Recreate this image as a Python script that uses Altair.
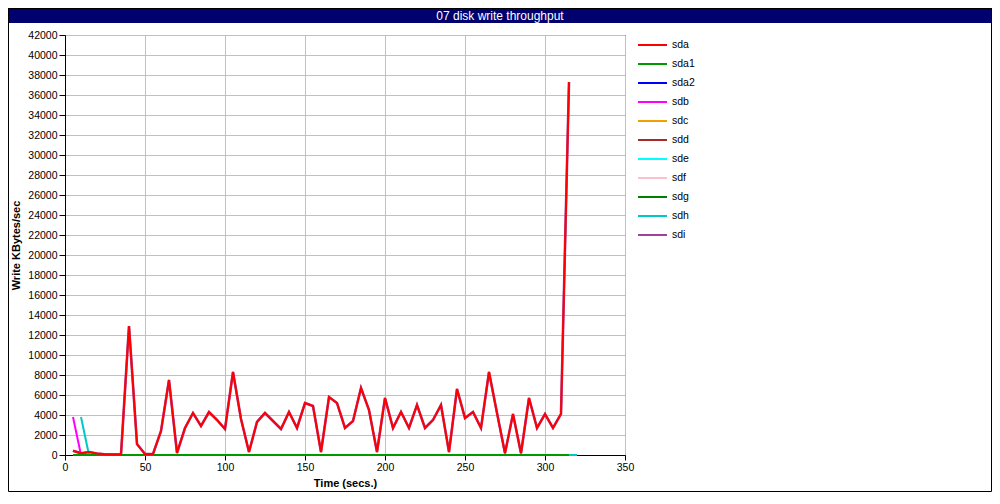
import altair as alt
import pandas as pd

# ---------------- data ----------------
times = list(range(5, 320, 5))  # 5 .. 315
times_sdh = list(range(10, 325, 5))  # 10 .. 320

sda = [430, 170, 300, 150, 80, 60, 60, 12900, 1100, 100,
       100, 2400, 7500, 200, 2700, 4200, 2900, 4300, 3500, 2600,
       8300, 3600, 300, 3300, 4200, 3400, 2600, 4300, 2700, 5200,
       4900, 300, 5800, 5200, 2700, 3400, 6700, 4500, 300, 5700,
       2700, 4300, 2700, 5000, 2700, 3500, 5000, 300, 6600, 3700,
       4300, 2700, 8300, 4200, 170, 4100, 170, 5700, 2700, 4100,
       2700, 4100, 37300]
sdi = list(sda)
sdb = [3800] + [0] * 62
sdh = [3800] + [0] * 62
zero = [0] * 63

series_names = ["sda", "sda1", "sda2", "sdb", "sdc", "sdd", "sde", "sdf", "sdg", "sdh", "sdi"]
series_colors = ["#ff0000", "#009a00", "#0000ff", "#ff00ff", "#f0a000", "#a52a2a",
                 "#00ffff", "#ffc0cb", "#007f00", "#00c8c8", "#a040a0"]
series_values = {
    "sda": (times, sda), "sda1": (times, zero), "sda2": (times, zero),
    "sdb": (times, sdb), "sdc": (times, zero), "sdd": (times, zero),
    "sde": (times, zero), "sdf": (times, zero), "sdg": (times, zero),
    "sdh": (times_sdh, sdh), "sdi": (times, sdi),
}
title_text = "07 disk write throughput"
y_ticks = list(range(0, 42001, 2000))
x_ticks = list(range(0, 351, 50))

FONT = "Liberation Sans"
W, H = 560, 420
PAD = {"left": 57, "top": 27, "right": 367, "bottom": 37}

color_scale = alt.Scale(domain=series_names, range=series_colors)

x_enc = alt.X("t:Q", scale=alt.Scale(domain=[0, 350], nice=False),
              axis=alt.Axis(values=x_ticks, title="Time (secs.)", format="d",
                            tickSize=5, labelPadding=2, titlePadding=5, labelFlush=False))
y_enc = alt.Y("v:Q", scale=alt.Scale(domain=[0, 42000], nice=False),
              axis=alt.Axis(values=y_ticks, title="Write KBytes/sec", format="d",
                            tickSize=6, labelPadding=2, titlePadding=6, labelFlush=False))

line_layers = []
for name in reversed(series_names):
    ts, vs = series_values[name]
    df = pd.DataFrame({"t": ts, "v": vs, "series": name})
    sw = 2.6 if name == "sdi" else 2
    line_layers.append(
        alt.Chart(df).mark_line(strokeWidth=sw).encode(
            x=x_enc, y=y_enc,
            color=alt.Color("series:N", scale=color_scale, legend=None),
        )
    )
lines = alt.layer(*line_layers)

# manual legend
leg_df = pd.DataFrame({"series": series_names})
leg_y = alt.Y("series:N",
              scale=alt.Scale(type="point", domain=series_names, range=[10, 200], padding=0),
              axis=None)
leg_rule = alt.Chart(leg_df).mark_rule(strokeWidth=2).encode(
    x=alt.value(573), x2=alt.value(602), y=leg_y,
    color=alt.Color("series:N", scale=color_scale, legend=None),
)
leg_text = alt.Chart(leg_df).mark_text(align="left", baseline="middle", fontSize=10.5,
                                       font=FONT, color="black").encode(
    x=alt.value(607), y=leg_y, text="series:N",
)
legend = alt.layer(leg_rule, leg_text)

# decorations
tdf = pd.DataFrame({"title": [title_text]})
total_w = PAD["left"] + W + PAD["right"]
total_h = PAD["top"] + H + PAD["bottom"]
bar = alt.Chart(tdf).mark_rect(color="#00006e").encode(
    x=alt.value(-PAD["left"]), x2=alt.value(total_w - PAD["left"]),
    y=alt.value(-PAD["top"]), y2=alt.value(-PAD["top"] + 15),
)
title = alt.Chart(tdf).mark_text(color="white", fontSize=12, font=FONT,
                                 align="center", baseline="middle").encode(
    x=alt.value(500 - 8 - PAD["left"]), y=alt.value(-PAD["top"] + 7.5), text="title:N",
)
border = alt.Chart(tdf).mark_rect(filled=False, stroke="black", strokeWidth=1).encode(
    x=alt.value(-PAD["left"] + 0.5), x2=alt.value(total_w - PAD["left"] - 0.5),
    y=alt.value(-PAD["top"] + 0.5), y2=alt.value(total_h - PAD["top"] - 0.5),
)
deco = alt.layer(bar, title, border)

chart = alt.layer(lines, legend, deco).resolve_scale(y="independent").properties(
    width=W, height=H,
    autosize=alt.AutoSizeParams(type="none"),
    padding=PAD,
    background="white",
).configure_view(
    stroke="black", strokeWidth=1,
).configure_axis(
    grid=True, gridColor="#c0c0c0", gridWidth=1,
    domainColor="black", tickColor="black",
    labelFont=FONT, labelFontSize=10.5, labelColor="black",
    titleFont=FONT, titleFontSize=11, titleFontWeight="bold", titleColor="black",
)

chart.save("out.html", embed_options={"renderer": "svg", "actions": False})
